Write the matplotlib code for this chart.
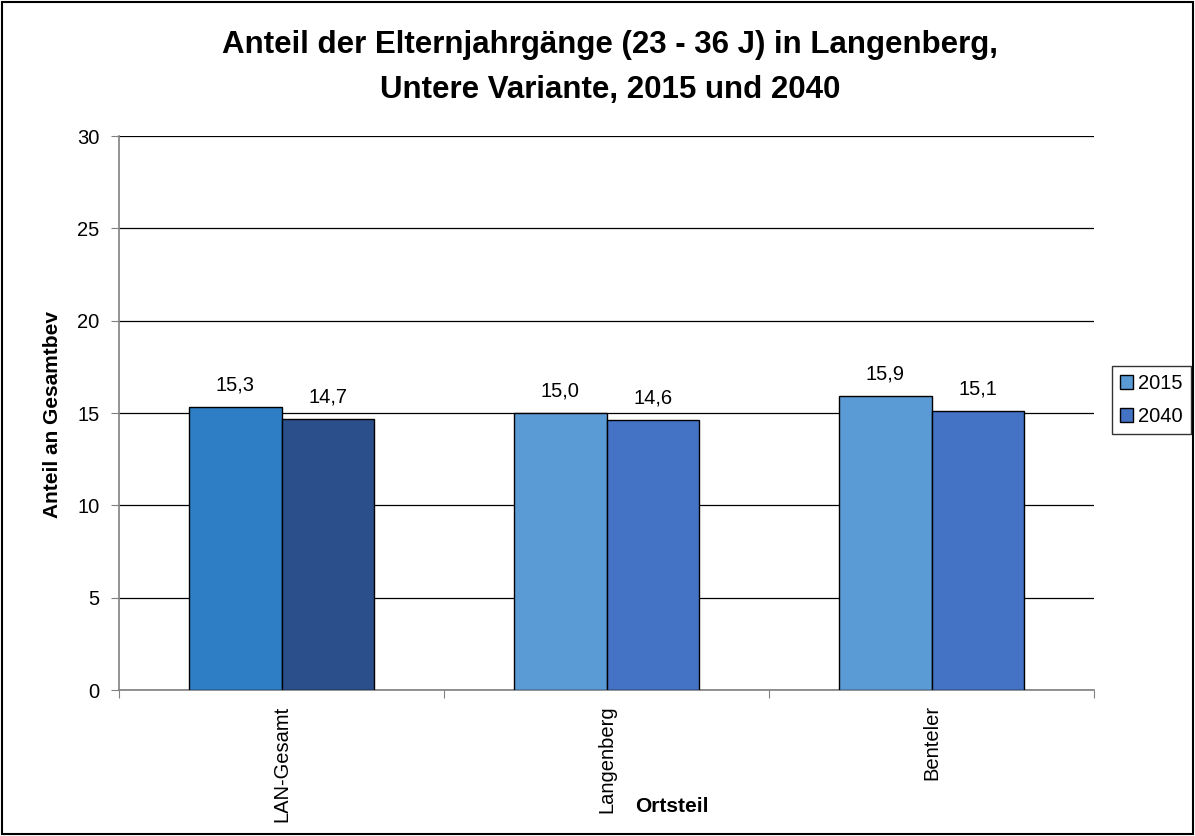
import matplotlib
matplotlib.use("Agg")
import matplotlib.pyplot as plt
import numpy as np
from matplotlib.patches import Rectangle, Patch

categories = ["LAN-Gesamt", "Langenberg", "Benteler"]
years = ["2015", "2040"]
values_2015 = [15.3, 15.0, 15.9]
values_2040 = [14.7, 14.6, 15.1]
colors_2015 = ["#2E7EC5", "#5B9BD5", "#5B9BD5"]
colors_2040 = ["#2B4F8B", "#4472C4", "#4472C4"]
legend_colors = ["#5B9BD5", "#4472C4"]
yticks = [0, 5, 10, 15, 20, 25, 30]

plt.rcParams['font.family'] = ['Liberation Sans', 'DejaVu Sans']

FS = 14.5
fig = plt.figure(figsize=(11.95, 8.36), dpi=100)
ax = fig.add_axes([119/1195, 1-690/836, (1094-119)/1195, (690-136)/836])

x = np.arange(len(categories))
w = 0.285
b1 = ax.bar(x - w/2, values_2015, w, color=colors_2015, edgecolor="black", linewidth=1.0, zorder=3)
b2 = ax.bar(x + w/2, values_2040, w, color=colors_2040, edgecolor="black", linewidth=1.0, zorder=3)

for bars, vals in ((b1, values_2015), (b2, values_2040)):
    for r, v in zip(bars, vals):
        ax.annotate(f"{v:.1f}".replace(".", ","), (r.get_x() + r.get_width()/2, v),
                    xytext=(0, 9), textcoords="offset points", ha="center", va="bottom", fontsize=FS)

ax.set_xlim(-0.5, 2.5)
ax.set_ylim(0, 30)
ax.set_yticks(yticks)
ax.set_yticklabels([str(t) for t in yticks], fontsize=FS)
ax.yaxis.grid(True, color="black", linewidth=0.9, zorder=0)
ax.set_axisbelow(True)
ax.set_xticks([-0.5, 0.5, 1.5, 2.5])
ax.set_xticklabels([])
ax.set_xticks(x, minor=True)
ax.set_xticklabels(categories, minor=True, rotation=90, fontsize=FS)
ax.tick_params(axis="x", which="minor", length=0, pad=11)
ax.tick_params(axis="x", which="major", length=6, color="#808080", direction="out")
ax.tick_params(axis="y", length=6, color="#808080", direction="out", pad=8)
for s in ["top", "right"]:
    ax.spines[s].set_visible(False)
for s in ["left", "bottom"]:
    ax.spines[s].set_color("#808080")
    ax.spines[s].set_linewidth(1.2)

fig.text(53/1195, 1-415/836, "Anteil an Gesamtbev", rotation=90, ha="center", va="center",
         fontsize=15, fontweight="bold")
fig.text(672/1195, 1-807/836, "Ortsteil", ha="center", va="center", fontsize=15, fontweight="bold")

fig.text(610/1195, 1-45/836, "Anteil der Elternjahrgänge (23 - 36 J) in Langenberg,",
         ha="center", va="center", fontsize=22.5, fontweight="bold")
fig.text(610/1195, 1-90/836, "Untere Variante, 2015 und 2040",
         ha="center", va="center", fontsize=22.5, fontweight="bold")

handles = [Patch(facecolor=c, edgecolor="black", linewidth=1.0) for c in legend_colors]
leg = ax.legend(handles, years, loc="center left",
                bbox_to_anchor=((1112-119)/975, 1-(400-136)/554), borderaxespad=0,
                fontsize=FS, frameon=True, fancybox=False, edgecolor="black",
                handlelength=0.65, handleheight=0.65, handletextpad=0.25,
                borderpad=0.4, labelspacing=0.7)
leg.get_frame().set_linewidth(1.0)

fig.patches.append(Rectangle((2/1195, 2/836), 1-4/1195, 1-4/836, transform=fig.transFigure,
                             fill=False, edgecolor="black", linewidth=1.5))

fig.savefig("out.png", dpi=100)
